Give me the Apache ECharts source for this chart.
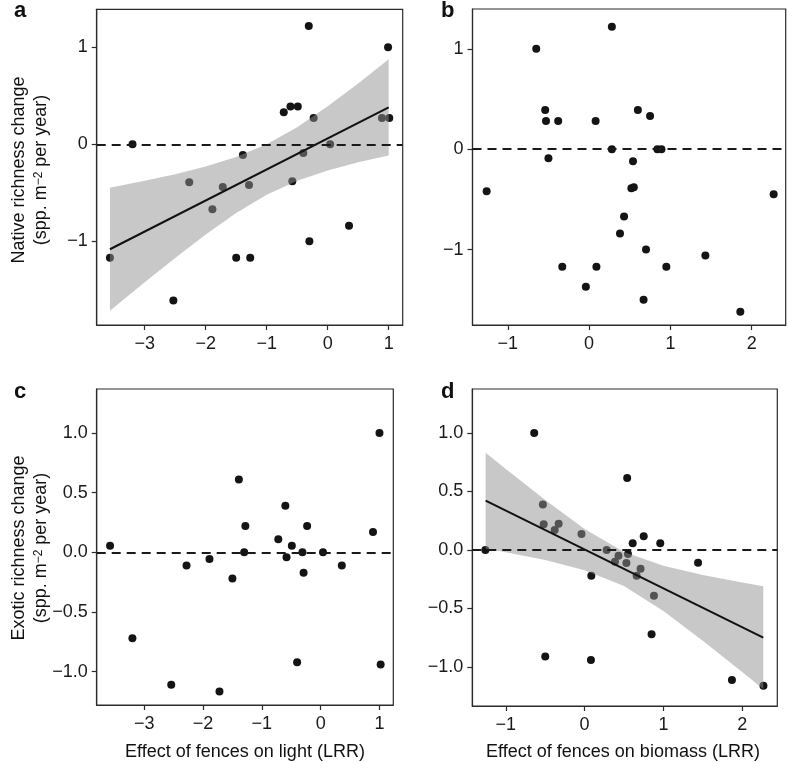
<!DOCTYPE html>
<html>
<head>
<meta charset="utf-8">
<script src="https://cdn.jsdelivr.net/npm/echarts@6/dist/echarts.min.js"></script>
<style>
html,body{margin:0;padding:0;background:#fff;}
#chart{width:788px;height:762px;}
</style>
</head>
<body>
<div id="chart"></div>
<script>
// ---------- Data ----------
// Panel a: native richness change vs effect of fences on light
const lightA = [-3.57,-3.20,-2.53,-2.27,-1.89,-1.72,-1.50,-1.39,-1.29,-1.27,-0.72,-0.61,-0.58,-0.49,-0.40,-0.31,-0.30,-0.23,0.04,0.35,0.89,0.99,1.01];
const nativeA = [-1.17,0,-1.61,-0.39,-0.67,-0.44,-1.17,-0.11,-0.42,-1.17,0.33,0.39,-0.38,0.39,-0.09,1.22,-1.00,0.27,0,-0.84,0.27,1.00,0.27];
// Panel b: native richness change vs effect of fences on biomass
const biomassB = [-1.26,-0.65,-0.54,-0.53,-0.50,-0.38,-0.33,-0.04,0.08,0.09,0.28,0.28,0.38,0.43,0.52,0.55,0.54,0.60,0.67,0.70,0.75,0.84,0.89,0.95,1.43,1.86,2.27];
const nativeB = [-0.42,1.00,0.39,0.28,-0.09,0.28,-1.17,-1.37,0.28,-1.17,1.22,0,-0.84,-0.67,-0.39,-0.38,-0.12,0.39,-1.50,-1.00,0.33,0,0,-1.17,-1.06,-1.62,-0.45];
// Panel c: exotic richness change vs effect of fences on light
const lightC = [-3.58,-3.20,-2.54,-2.28,-1.89,-1.72,-1.50,-1.39,-1.30,-1.28,-0.72,-0.60,-0.58,-0.49,-0.40,-0.31,-0.29,-0.23,0.04,0.36,0.89,1.00,1.02];
const exoticC = [0.056,-0.72,-1.11,-0.11,-0.056,-1.165,-0.22,0.61,0,0.22,0.11,0.39,-0.04,0.056,-0.92,0,-0.17,0.22,0,-0.11,0.17,1.00,-0.94];
// Panel d: exotic richness change vs effect of fences on biomass
const biomassD = [-1.26,-0.64,-0.53,-0.52,-0.50,-0.38,-0.33,-0.04,0.085,0.08,0.28,0.385,0.43,0.53,0.54,0.55,0.61,0.66,0.71,0.75,0.85,0.88,0.96,1.44,1.87,2.27];
const exoticD = [0,1.00,0.39,0.22,-0.91,0.17,0.225,0.137,-0.22,-0.94,0,-0.10,-0.05,-0.11,0.615,-0.034,0.057,-0.22,-0.16,0.117,-0.72,-0.39,0.057,-0.108,-1.11,-1.16];

// Fitted lines (end points)
const fitAX = [-3.57, 1.0];
const fitAY = [-1.082, 0.381];
const fitDX = [-1.257, 2.268];
const fitDY = [0.422, -0.749];

// Confidence bands
const bandAX  = [-3.57,-3.0,-2.5,-2.0,-1.5,-1.0,-0.5,0,0.5,1.0];
const bandALo = [-1.716,-1.423,-1.171,-0.930,-0.708,-0.521,-0.377,-0.270,-0.186,-0.116];
const bandAHi = [-0.448,-0.377,-0.309,-0.230,-0.132,0.001,0.177,0.392,0.628,0.878];
const bandDX  = [-1.257,-1.0,-0.5,0,0.5,1.0,1.5,2.0,2.268];
const bandDLo = [0.012,-0.019,-0.086,-0.172,-0.307,-0.521,-0.775,-1.042,-1.188];
const bandDHi = [0.832,0.693,0.428,0.180,-0.017,-0.135,-0.213,-0.278,-0.310];

// Ticks
const ticksLight = [-3,-2,-1,0,1];
const ticksBiomass = [-1,0,1,2];
const ticksNative = [-1,0,1];
const ticksExotic = [-1.0,-0.5,0.0,0.5,1.0];

// Text
const yTitleNative = 'Native richness change';
const yTitleExotic = 'Exotic richness change';
const yUnit = '(spp. m{sup|\u22122} per year)';
const xTitleLight = 'Effect of fences on light (LRR)';
const xTitleBiomass = 'Effect of fences on biomass (LRR)';
const panelLetters = ['a','b','c','d'];

// ---------- Chart ----------
const FONT = '"Liberation Sans", Arial, Helvetica, sans-serif';
const AXC = '#2b2b2b';
const TICKFS = 18;
const pairs = (xs, ys) => xs.map((x, i) => [x, ys[i]]);
const fmtInt = v => (v < 0 ? '\u2212' : '') + Math.abs(v);
const fmtDec = v => (v < -1e-9 ? '\u2212' : '') + Math.abs(v).toFixed(1);

function xAxis(gi, min, max, ticks, fmt) {
  return {
    type: 'value', gridIndex: gi, min: min, max: max,
    axisLine: {show: true, onZero: false, lineStyle: {color: AXC, width: 1.2}},
    axisTick: {show: true, length: 5, customValues: ticks, lineStyle: {color: AXC, width: 1.2}},
    axisLabel: {customValues: ticks, formatter: fmt, margin: 10, fontSize: TICKFS, color: '#1a1a1a', fontFamily: FONT},
    splitLine: {show: false}
  };
}
function yAxis(gi, min, max, ticks, fmt) {
  return {
    type: 'value', gridIndex: gi, min: min, max: max,
    axisLine: {show: true, onZero: false, lineStyle: {color: AXC, width: 1.2}},
    axisTick: {show: true, length: 5, customValues: ticks, lineStyle: {color: AXC, width: 1.2}},
    axisLabel: {customValues: ticks, formatter: fmt, margin: 9, fontSize: TICKFS, color: '#1a1a1a', fontFamily: FONT},
    splitLine: {show: false}
  };
}
const zeroLine = {
  silent: true, symbol: ['none', 'none'], label: {show: false},
  lineStyle: {type: [9, 6], color: '#1a1a1a', width: 2.2},
  data: [{yAxis: 0}]
};
function scatter(gi, xs, ys, withZero) {
  const s = {
    type: 'scatter', xAxisIndex: gi, yAxisIndex: gi, z: 2, silent: true,
    symbolSize: 8, itemStyle: {color: '#141414', opacity: 1},
    data: pairs(xs, ys)
  };
  if (withZero) s.markLine = zeroLine;
  return s;
}
function band(gi, bx, blo, bhi) {
  return {
    type: 'custom', xAxisIndex: gi, yAxisIndex: gi, z: 3, silent: true,
    data: [[bx[0], blo[0]]],
    renderItem: function (params, api) {
      const pts = [];
      for (let k = 0; k < bx.length; k++) pts.push(api.coord([bx[k], bhi[k]]));
      for (let k = bx.length - 1; k >= 0; k--) pts.push(api.coord([bx[k], blo[k]]));
      return {type: 'polygon', shape: {points: pts}, style: {fill: '#919191', opacity: 0.5}};
    }
  };
}
function fitLine(gi, xs, ys) {
  return {
    type: 'line', xAxisIndex: gi, yAxisIndex: gi, z: 4, silent: true,
    symbol: 'none', showSymbol: false,
    lineStyle: {color: '#111', width: 2},
    data: pairs(xs, ys),
    markLine: zeroLine
  };
}
function txt(x, y, text, size, opts) {
  opts = opts || {};
  return {
    type: 'text', x: x, y: y, rotation: opts.rot || 0, silent: true,
    style: {
      text: text, fontSize: size, fontFamily: FONT, fontWeight: opts.bold ? 'bold' : 'normal',
      fill: '#111', align: opts.align || 'center', verticalAlign: 'middle',
      textAlign: opts.align || 'center', textVerticalAlign: 'middle',
      rich: {sup: {fontSize: 12, fontFamily: FONT, verticalAlign: 'top', fill: '#111'}}
    }
  };
}

const chart = echarts.init(document.getElementById('chart'), null, {renderer: 'canvas'});
chart.setOption({
  animation: false,
  backgroundColor: '#fff',
  grid: [
    {left: 96.7, top: 9.3, width: 306, height: 315.7, show: true, borderColor: AXC, borderWidth: 1.2, backgroundColor: 'transparent'},
    {left: 472.5, top: 9, width: 313.2, height: 316, show: true, borderColor: AXC, borderWidth: 1.2, backgroundColor: 'transparent'},
    {left: 96.7, top: 389, width: 296.6, height: 316, show: true, borderColor: AXC, borderWidth: 1.2, backgroundColor: 'transparent'},
    {left: 472.3, top: 389, width: 305, height: 317, show: true, borderColor: AXC, borderWidth: 1.2, backgroundColor: 'transparent'}
  ],
  xAxis: [
    xAxis(0, -3.787, 1.230, ticksLight, fmtInt),
    xAxis(1, -1.434, 2.418, ticksBiomass, fmtInt),
    xAxis(2, -3.807, 1.235, ticksLight, fmtInt),
    xAxis(3, -1.426, 2.446, ticksBiomass, fmtInt)
  ],
  yAxis: [
    yAxis(0, -1.863, 1.392, ticksNative, fmtInt),
    yAxis(1, -1.751, 1.396, ticksNative, fmtInt),
    yAxis(2, -1.279, 1.369, ticksExotic, fmtDec),
    yAxis(3, -1.333, 1.376, ticksExotic, fmtDec)
  ],
  series: [
    scatter(0, lightA, nativeA, false),
    band(0, bandAX, bandALo, bandAHi),
    fitLine(0, fitAX, fitAY),
    scatter(1, biomassB, nativeB, true),
    scatter(2, lightC, exoticC, true),
    scatter(3, biomassD, exoticD, false),
    band(3, bandDX, bandDLo, bandDHi),
    fitLine(3, fitDX, fitDY)
  ],
  graphic: [
    txt(14, 11, panelLetters[0], 22, {bold: true, align: 'left'}),
    txt(441, 11, panelLetters[1], 22, {bold: true, align: 'left'}),
    txt(14, 392, panelLetters[2], 22, {bold: true, align: 'left'}),
    txt(441, 392, panelLetters[3], 22, {bold: true, align: 'left'}),
    txt(19, 170, yTitleNative, 18, {rot: Math.PI / 2}),
    txt(41.5, 170, yUnit, 18, {rot: Math.PI / 2}),
    txt(19, 548, yTitleExotic, 18, {rot: Math.PI / 2}),
    txt(41.5, 548, yUnit, 18, {rot: Math.PI / 2}),
    txt(245, 752, xTitleLight, 18),
    txt(623, 752, xTitleBiomass, 18)
  ]
});
</script>
</body>
</html>
